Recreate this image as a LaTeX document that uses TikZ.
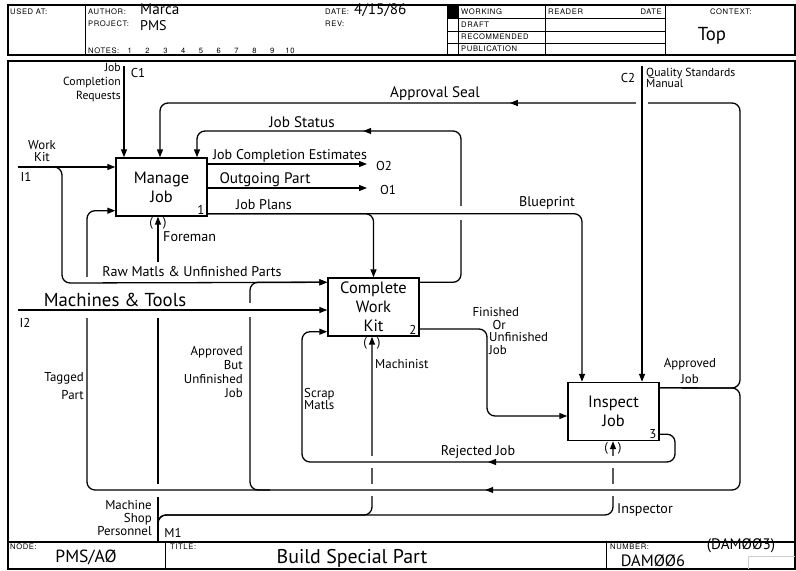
\documentclass[tikz,border=0pt]{standalone}
\usepackage{fontspec}
\setmainfont{PT Sans}
\newfontfamily\formfont[LetterSpace=8]{TeX Gyre Heros}
\usetikzlibrary{arrows.meta,calc,decorations.markings}

\begin{document}
\begin{tikzpicture}[x=0.3mm,y=-0.3mm,
    wire/.style={line width=1.1pt},
    arr/.style={wire,-{Triangle[length=2.4mm,width=1.8mm]}},
    midarr/.style={postaction={decorate},decoration={markings,
      mark=at position #1 with {\arrow{Triangle[length=2.4mm,width=1.8mm]}}}},
    fbox/.style={draw,line width=1.2pt,minimum width=27.3mm,minimum height=17.4mm,
      inner sep=0pt,align=center,font=\fontsize{14}{16}\selectfont},
    hand/.style 2 args={inner sep=0pt,font=\fontsize{#1}{#2}\selectfont},
    tag/.style={inner sep=0pt,font=\fontsize{11}{11}\selectfont},
    form/.style={inner sep=0pt,anchor=west,font=\formfont\fontsize{6.5}{7}\selectfont}]
  \useasboundingbox (0,0) rectangle (796,571);
  % form frame
  \draw[line width=1pt] (8,5) rectangle (795,55);
  \draw[line width=1pt] (8,61) rectangle (795,569);
  \draw[line width=1pt] (8,542) -- (795,542);
  \foreach \x in {85,447,458,545,665} \draw[line width=0.8pt] (\x,5) -- (\x,55);
  \foreach \y in {18,31,43} \draw[line width=0.6pt] (447,\y) -- (665,\y);
  \fill (447,5) rectangle (458,18);
  \foreach \x in {165,606} \draw[line width=0.8pt] (\x,542) -- (\x,569);
  \draw[gray!40,line width=0.4pt] (748,569) |- (795,556);
  % header
  \node[form] (usedat) at (10,12) {USED AT:};
  \node[form] (author) at (88,12) {AUTHOR:};
  \node[hand={13}{13},anchor=west] (authname) at (140,9) {Marca};
  \node[form] (project) at (88,24) {PROJECT:};
  \node[hand={12}{12},anchor=west] (projname) at (140,26) {PMS};
  \node[form] (notes) at (88,51) {NOTES:};
  \foreach \n in {1,...,10}
    \node[form,anchor=center] (note\n) at (112+17.8*\n,51) {\n};
  \node[form] (datelbl) at (325,12) {DATE:};
  \node[hand={13}{13},anchor=west] (date) at (354,10) {4/15/86};
  \node[form] (rev) at (325,24) {REV:};
  \foreach \t/\y in {WORKING/12,DRAFT/25,RECOMMENDED/37,PUBLICATION/49}
    \node[form] (st\t) at (461,\y) {\t};
  \node[form] (reader) at (548,12) {READER};
  \node[form,anchor=east] (rdate) at (662,12) {DATE};
  \node[form,anchor=center] (context) at (731,12) {CONTEXT:};
  \node[hand={16}{16}] (top) at (712,36) {Top};
  % footer
  \node[form] (nodelbl) at (10,547) {NODE:};
  \node[hand={15}{15}] (nodeno) at (86,557) {PMS/AØ};
  \node[form] (titlelbl) at (170,547) {TITLE:};
  \node[hand={17}{17}] (title) at (352,558) {Build Special Part};
  \node[form] (numlbl) at (610,547) {NUMBER:};
  \node[hand={14}{14}] (number) at (653,561) {DAMØØ6};
  \node[hand={13}{13}] (oldnum) at (741,546) {(DAMØØ3)};

  % activity boxes
  \node[fbox] (mj) at (161.5,187) {Manage\\Job};
  \node[fbox] (cwk) at (373.5,307) {Complete\\Work\\Kit};
  \node[fbox] (ij) at (613.5,411.5) {Inspect\\Job};
  \node[tag,anchor=south east] (mjn) at ($(mj.south east)+(-3,-2)$) {1};
  \node[tag,anchor=south east] (cwkn) at ($(cwk.south east)+(-3,-2)$) {2};
  \node[tag,anchor=south east] (ijn) at ($(ij.south east)+(-3,-2)$) {3};

  % boundary ends and bends
  \coordinate (c1) at (124,66);
  \coordinate (c2) at (642,66);
  \coordinate (i1) at (18,167);
  \coordinate (i2) at (18,310);
  \coordinate (m1) at (158,541);
  \coordinate (o1) at (367,188);
  \coordinate (o2) at (367,164);
  \coordinate (seal) at (160,103);
  \coordinate (aj) at (740,388);
  \coordinate (loop) at (87,490);
  \coordinate (tagin) at ($(mj.south west)+(0,-6)$);
  \coordinate (js) at (461,131);
  \coordinate (jsin) at ($(mj.north)+(35.5,0)$);
  \coordinate (jsout) at ($(cwk.north east)+(0,5)$);
  \coordinate (jp) at ($(mj.south east)+(0,-3)$);
  \coordinate (bp) at (582,213);
  \coordinate (rawin) at ($(cwk.north west)+(0,5)$);
  \coordinate (rawx) at (62,283);
  \coordinate (abu) at (250,490);
  \coordinate (fux) at (487,329);
  \coordinate (fuin) at ($(ij.west)+(0,4.5)$);
  \coordinate (ajout) at ($(ij.north east)+(0,6)$);
  \coordinate (rjout) at ($(ij.south east)+(0,-7)$);
  \coordinate (rj) at (675,462);
  \coordinate (sm) at (302,462);
  \coordinate (smin) at ($(cwk.south west)+(0,-5)$);
  \coordinate (mach) at (372,515);
  \coordinate (insp) at (613,515);

  % mechanisms
  \draw[arr] (m1) -- (m1 |- mj.south);
  \draw[arr,rounded corners=2.4mm] (m1) |- (mach) -- (mach |- cwk.south);
  \draw[arr,rounded corners=2.4mm] (m1) |- (insp) -- (insp |- ij.south);
  % feedback
  \draw[arr,rounded corners=2.4mm,midarr=0.6] (jsout) -| (js) -| (jsin);
  \draw[arr,rounded corners=2.4mm,midarr=0.595] (ajout) -- (aj) |- (seal) -- (seal |- mj.north);
  \draw[arr,rounded corners=2.4mm] ($(abu)+(20,0)$) -| (abu |- rawin) -- (rawin);
  % breaks where lines cross
  \foreach \a/\b/\c/\d in {152/262/164/318, 152/484/164/497, 366/456/378/468,
      366/484/378/496, 607/456/619/468, 607/484/619/496, 455/206/467/220,
      244/303/256/317, 636/97/648/109}
    \fill[white] (\a,\b) rectangle (\c,\d);
  \draw[arr,rounded corners=2.4mm,midarr=0.381] (ajout) -- (aj) |- (loop) |- (tagin);
  \fill[white] (81,277) rectangle (93,318);
  % controls
  \draw[arr] (c1) -- (c1 |- mj.north);
  \draw[arr] (c2) -- (c2 |- ij.north);
  % inputs and outputs
  \draw[arr] (i1) -- (i1 -| mj.west);
  \draw[arr,rounded corners=2.4mm] ($(i1)+(25,0)$) -| (rawx) -- (rawin);
  \draw[arr] (i2) -- (i2 -| cwk.west);
  \draw[arr] (mj.east |- o2) -- (o2);
  \draw[arr] (mj.east |- o1) -- (o1);
  \draw[arr,rounded corners=2.4mm] (jp) -| (cwk.north);
  \draw[arr,rounded corners=2.4mm] (jp) -| (ij.north -| bp);
  \draw[arr,rounded corners=2.4mm] (cwk.east |- fux) -- (fux) |- (fuin);
  \draw[arr,rounded corners=2.4mm,midarr=0.4] (rjout) -| (rj) -- (sm) |- (smin);
  % tunnel marks
  \node[tag] (tunf) at (158,223) {(\hspace{3mm})};
  \node[tag] (tunm) at (372,343) {(\hspace{3mm})};
  \node[tag] (tuni) at (613,448) {(\hspace{3mm})};

  % arrow labels
  \node[hand={10}{12},align=right,anchor=east] (c1lbl) at (121,83) {Job\\Completion\\Requests};
  \node[tag] (c1tag) at (138,73) {C1};
  \node[tag] (c2tag) at (628,78) {C2};
  \node[hand={10}{10},align=left,anchor=west] (c2lbl) at (646,78) {Quality Standards\\Manual};
  \node[hand={13}{13}] (seallbl) at (435,94) {Approval Seal};
  \node[hand={13}{13}] (jslbl) at (302,122) {Job Status};
  \node[hand={12}{12}] (jcelbl) at (290,156) {Job Completion Estimates};
  \node[tag] (o2lbl) at (384,166) {O2};
  \node[hand={13}{13}] (oplbl) at (265,180) {Outgoing Part};
  \node[tag] (o1lbl) at (388,190) {O1};
  \node[hand={12}{12}] (jplbl) at (264,205) {Job Plans};
  \node[hand={12}{12}] (bplbl) at (547,203) {Blueprint};
  \node[hand={12}{12},anchor=west] (forelbl) at (163,237) {Foreman};
  \node[hand={12}{12}] (rawlbl) at (192,272) {Raw Matls \& Unfinished Parts};
  \node[hand={11}{10},align=center] (wklbl) at (42,151) {Work\\Kit};
  \node[tag] (i1lbl) at (26,177) {I1};
  \node[hand={16}{16}] (mtlbl) at (115,300) {Machines \& Tools};
  \node[tag] (i2lbl) at (25,323) {I2};
  \node[hand={11}{15},align=right,anchor=east] (tplbl) at (84,386) {Tagged\\Part};
  \node[hand={11}{12},align=right,anchor=east] (abulbl) at (243,372) {Approved\\But\\Unfinished\\Job};
  \node[hand={11}{11},align=left,anchor=west] (smlbl) at (304,399) {Scrap\\Matls};
  \node[hand={11}{11},anchor=west] (machlbl) at (375,364) {Machinist};
  \node[hand={11}{11},align=left,anchor=west] (fulbl) at (489,331)
    {\hspace*{-5mm}Finished\\\hspace*{1mm}Or\\Unfinished\\Job};
  \node[hand={11}{14},align=center] (ajlbl) at (690,371) {Approved\\Job};
  \node[hand={12}{12}] (rjlbl) at (478,452) {Rejected Job};
  \node[hand={12}{12},anchor=west] (insplbl) at (617,510) {Inspector};
  \node[hand={11}{11},align=right,anchor=east] (mslbl) at (152,518) {Machine\\Shop\\Personnel};
  \node[tag] (m1lbl) at (173,533) {M1};
\end{tikzpicture}
\end{document}
